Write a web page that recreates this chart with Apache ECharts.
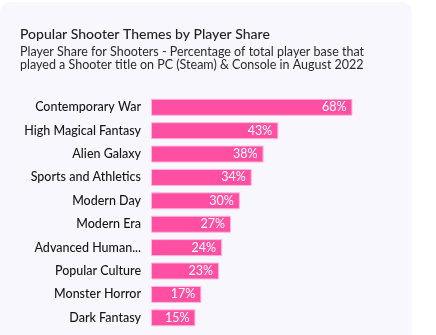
<!DOCTYPE html>
<html><head><meta charset="utf-8">
<script src="https://cdn.jsdelivr.net/npm/echarts@6/dist/echarts.min.js"></script>
<style>html,body{margin:0;padding:0;background:#fff}#c{width:436px;height:335px}</style>
</head><body><div id="c"></div>
<script>
var categories = ['Contemporary War','High Magical Fantasy','Alien Galaxy','Sports and Athletics','Modern Day','Modern Era','Advanced Human Augmentation','Popular Culture','Monster Horror','Dark Fantasy'];
var values = [68,43,38,34,30,27,24,23,17,15];
var title = 'Popular Shooter Themes by Player Share';
var subtitle = 'Player Share for Shooters - Percentage of total player base that\nplayed a Shooter title on PC (Steam) & Console in August 2022';
var FONT = 'Lato';
var chart = echarts.init(document.getElementById('c'));
chart.setOption({
  animation:false,
  graphic:[{type:'rect',z:-10,shape:{x:0,y:2,width:412,height:340,r:10},style:{fill:'#f8f7fd'}}],
  title:{text:title,subtext:subtitle,left:15,top:22,itemGap:4,
    textStyle:{fontFamily:FONT,fontSize:14,fontWeight:500,color:'#222'},
    subtextStyle:{fontFamily:FONT,fontSize:12.5,color:'#2a2a2a',lineHeight:13.5}},
  grid:{left:151,top:95.6,width:237,height:233.9,containLabel:false},
  xAxis:{type:'value',min:0,max:80,show:false},
  yAxis:{type:'category',data:categories,inverse:true,axisLine:{show:false},axisTick:{show:false},
    axisLabel:{fontFamily:FONT,fontSize:12.5,fontWeight:500,color:'#151515',margin:10,
      formatter:function(v){return v.length>20 ? v.slice(0,14).trim()+'...' : v;}}},
  series:[{type:'bar',data:values,barWidth:17,
    itemStyle:{color:'#ff4fa3',borderColor:'#ffb8da',borderWidth:1},
    label:{show:true,position:'insideRight',formatter:'{c}%',color:'#fff',fontFamily:FONT,fontSize:12.5,distance:6}}]
});
</script></body></html>
